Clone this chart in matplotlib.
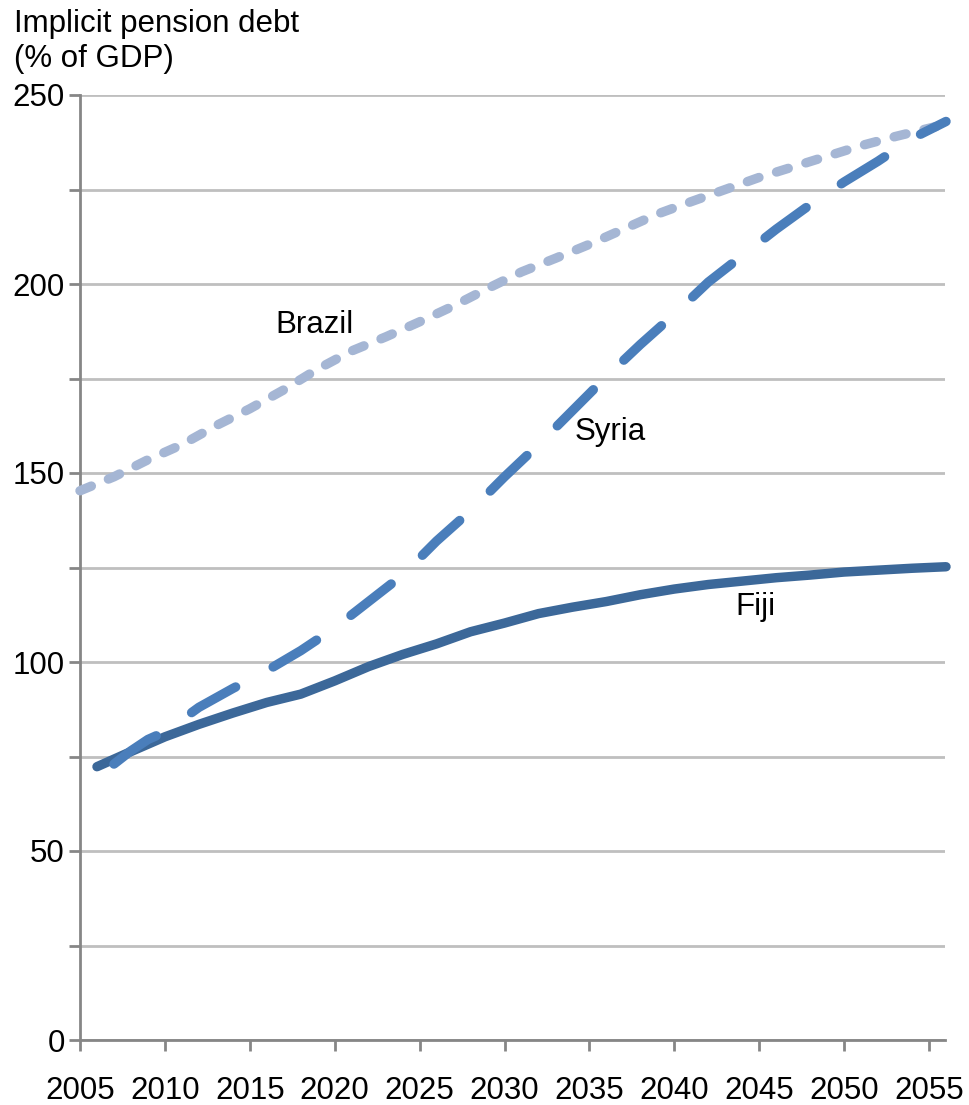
import matplotlib
matplotlib.use('Agg')
import matplotlib.pyplot as plt
import numpy as np

plt.rcParams['font.family'] = ['Liberation Sans', 'DejaVu Sans']

# Implicit pension debt, % of GDP
brazil_years = [2005, 2007, 2009, 2011, 2013, 2015, 2017, 2019, 2021, 2023,
                2025, 2027, 2029, 2031, 2033, 2035, 2037, 2039, 2041, 2043,
                2045, 2047, 2049, 2051, 2053, 2056]
brazil_vals = [145.3, 149.0, 153.5, 157.5, 162.5, 167.0, 172.0, 177.5, 182.3, 186.0,
               190.0, 194.2, 198.8, 203.2, 206.8, 210.5, 214.5, 218.5, 221.8, 225.0,
               228.2, 231.0, 233.8, 236.6, 239.0, 242.3]

syria_years = [2007, 2008, 2009, 2010, 2012, 2014, 2016, 2018, 2020, 2022,
               2024, 2026, 2028, 2030, 2032, 2034, 2036, 2038, 2040, 2042,
               2044, 2046, 2048, 2050, 2052, 2054, 2056]
syria_vals = [73.0, 76.5, 79.5, 81.5, 88.0, 93.0, 97.7, 103.0, 109.0, 116.0,
              123.0, 132.0, 140.0, 149.0, 157.5, 166.5, 175.5, 184.0, 192.0, 200.5,
              207.5, 214.5, 221.0, 227.0, 232.5, 238.5, 243.0]

fiji_years = [2006, 2008, 2010, 2012, 2014, 2016, 2018, 2020, 2022, 2024,
              2026, 2028, 2030, 2032, 2034, 2036, 2038, 2040, 2042, 2044,
              2046, 2048, 2050, 2052, 2054, 2056]
fiji_vals = [72.3, 76.3, 80.2, 83.5, 86.5, 89.3, 91.5, 95.0, 98.8, 102.0,
             104.8, 108.0, 110.3, 112.8, 114.5, 116.0, 117.8, 119.3, 120.5, 121.4,
             122.3, 123.0, 123.8, 124.3, 124.8, 125.2]

labels = {'Brazil': (2018.8, 189.2), 'Syria': (2036.2, 160.9), 'Fiji': (2044.75, 114.6)}

W, H = 970, 1105
fig = plt.figure(figsize=(W / 100, H / 100), dpi=100)
ax = fig.add_axes([80 / W, (H - 1040) / H, 865 / W, 945 / H])

axis_grey = '#868686'
grid_grey = '#bfbfbf'
lw = 6.8
fs = 22.5

ax.plot(brazil_years, brazil_vals, color='#a5b6d4', lw=lw,
        dashes=(1.3, 1.95), dash_capstyle='round', solid_capstyle='round',
        clip_on=False, zorder=3)
ax.plot(fiji_years, fiji_vals, color='#3c6899', lw=lw,
        solid_capstyle='round', solid_joinstyle='round', clip_on=False, zorder=3)
ax.plot(syria_years, syria_vals, color='#4a7ebb', lw=lw,
        dashes=(5.4, 4.5), dash_capstyle='round', clip_on=False, zorder=4)

for name, (x, y) in labels.items():
    ax.text(x, y, name, fontsize=fs, ha='center', va='center')

ax.set_xlim(2005, 2055.94)
ax.set_ylim(0, 250)
ax.set_xticks(np.arange(2005, 2056, 5))
ax.set_yticks(np.arange(0, 251, 25))
ax.set_yticklabels([str(v) if v % 50 == 0 else '' for v in range(0, 251, 25)])

ax.grid(axis='y', color=grid_grey, lw=2.0, zorder=0)
ax.set_axisbelow(True)
for side in ['top', 'right']:
    ax.spines[side].set_visible(False)
for side in ['left', 'bottom']:
    ax.spines[side].set_color(axis_grey)
    ax.spines[side].set_linewidth(2.0)

ax.tick_params(axis='both', colors=axis_grey, width=2.0, length=8,
               labelsize=fs, labelcolor='black')
ax.tick_params(axis='y', pad=3)
ax.tick_params(axis='x', pad=18)

fig.text(14 / W, 1 - 31.7 / H, 'Implicit pension debt', fontsize=fs, va='baseline')
fig.text(14 / W, 1 - 66.7 / H, '(% of GDP)', fontsize=fs, va='baseline')

fig.savefig('out.png', dpi=100)
